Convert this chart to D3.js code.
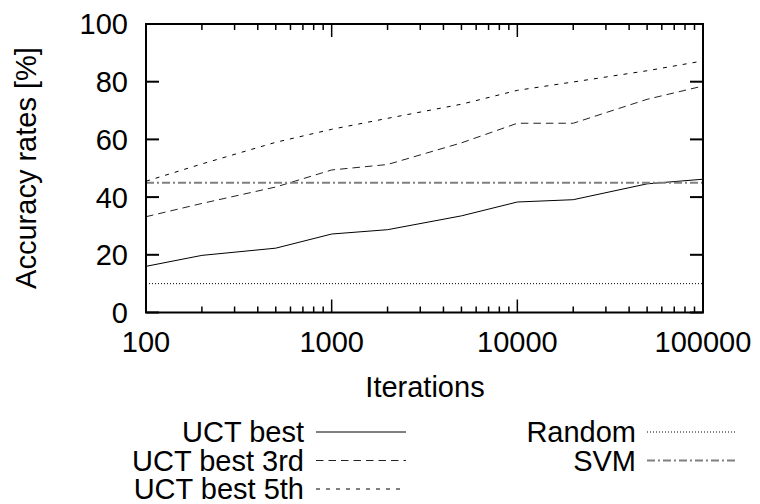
<!DOCTYPE html>
<html><head><meta charset="utf-8">
<script src="https://cdn.jsdelivr.net/npm/d3@7"></script>
<style>
html,body{margin:0;padding:0;background:#fff;}
svg text{font-family:"Liberation Sans",Arial,Helvetica,sans-serif;fill:#000;}
</style></head>
<body><svg id="c" width="760" height="504"></svg>
<script>
const iterations = [100, 200, 500, 1000, 2000, 5000, 10000, 20000, 50000, 100000];
const uctBest    = [16, 19.8, 22.3, 27.2, 28.7, 33.5, 38.3, 39.1, 44.6, 46.2];
const uctBest3rd = [33.2, 37.8, 43.5, 49.4, 51.3, 58.8, 65.6, 65.6, 73.9, 78.5];
const uctBest5th = [45.5, 51.5, 59, 63.5, 67.3, 72.2, 77, 79.9, 83.8, 87.2];
const randomRate = 10;
const svmRate = 45;
const xTicks = [100, 1000, 10000, 100000];
const yTicks = [0, 20, 40, 60, 80, 100];
const seriesNames = ["UCT best", "UCT best 3rd", "UCT best 5th", "Random", "SVM"];

const L = 146, R = 703, T = 24, B = 312.5;
const svg = d3.select("#c");
const x = d3.scaleLog().domain([100, 100000]).range([L, R]);
const y = d3.scaleLinear().domain([0, 100]).range([B, T]);
const FS = 29;

const styles = [
  {stroke:"#000", dash:null, w:1},
  {stroke:"#222", dash:"7.5,5", w:1},
  {stroke:"#000", dash:"4,6", w:1},
  {stroke:"#000", dash:"1,2", w:1},
  {stroke:"#808080", dash:"8,3,2,3", w:2}
];

const minor = [];
for (let d = 100; d < 100000; d *= 10) for (let k = 2; k <= 9; k++) minor.push(d * k);
const tg = svg.append("g").attr("stroke", "#000");
minor.forEach(v => {
  tg.append("line").attr("x1", x(v)).attr("x2", x(v)).attr("y1", B).attr("y2", B - 6).attr("stroke-width", 1.5);
  tg.append("line").attr("x1", x(v)).attr("x2", x(v)).attr("y1", T).attr("y2", T + 6).attr("stroke-width", 1.5);
});
xTicks.forEach(v => {
  tg.append("line").attr("x1", x(v)).attr("x2", x(v)).attr("y1", B).attr("y2", B - 13).attr("stroke-width", 1.5);
  tg.append("line").attr("x1", x(v)).attr("x2", x(v)).attr("y1", T).attr("y2", T + 13).attr("stroke-width", 1.5);
});
yTicks.forEach(v => {
  tg.append("line").attr("x1", L).attr("x2", L + 13).attr("y1", y(v)).attr("y2", y(v)).attr("stroke-width", 2);
  tg.append("line").attr("x1", R).attr("x2", R - 13).attr("y1", y(v)).attr("y2", y(v)).attr("stroke-width", 2);
});

svg.append("g").selectAll("text").data(xTicks).join("text")
  .attr("x", d => x(d)).attr("y", 352).attr("text-anchor", "middle")
  .attr("font-size", FS).text(d => d);
svg.append("g").selectAll("text").data(yTicks).join("text")
  .attr("x", 128).attr("y", d => y(d) + 10.4).attr("text-anchor", "end")
  .attr("font-size", FS).text(d => d);

svg.append("text").attr("x", 425).attr("y", 397).attr("text-anchor", "middle")
  .attr("font-size", FS).text("Iterations");
svg.append("text").attr("transform", "translate(36,168) rotate(-90)")
  .attr("text-anchor", "middle").attr("font-size", FS).text("Accuracy rates [%]");

const line = d3.line().x(d => x(d[0])).y(d => y(d[1]));
const series = [
  iterations.map((v, i) => [v, uctBest[i]]),
  iterations.map((v, i) => [v, uctBest3rd[i]]),
  iterations.map((v, i) => [v, uctBest5th[i]]),
  [[100, randomRate], [100000, randomRate]],
  [[100, svmRate], [100000, svmRate]]
];
const pg = svg.append("g");
series.forEach((s, i) => {
  const p = pg.append("path").attr("d", line(s)).attr("fill", "none")
    .attr("stroke", styles[i].stroke).attr("stroke-width", styles[i].w);
  if (styles[i].dash) p.attr("stroke-dasharray", styles[i].dash);
});

svg.append("rect").attr("x", L).attr("y", T).attr("width", R - L).attr("height", B - T)
  .attr("fill", "none").attr("stroke", "#000").attr("stroke-width", 2);

const leg = [
  {i:0, tx:304, lx1:316, lx2:406, ly:432},
  {i:1, tx:304, lx1:316, lx2:406, ly:460.5},
  {i:2, tx:304, lx1:316, lx2:406, ly:489},
  {i:3, tx:636, lx1:647, lx2:735, ly:432},
  {i:4, tx:636, lx1:647, lx2:735, ly:460.5}
];
leg.forEach(o => {
  svg.append("text").attr("x", o.tx).attr("y", o.ly + 10.4).attr("text-anchor", "end")
    .attr("font-size", FS).text(seriesNames[o.i]);
  const l = svg.append("line").attr("x1", o.lx1).attr("x2", o.lx2).attr("y1", o.ly).attr("y2", o.ly)
    .attr("stroke", styles[o.i].stroke).attr("stroke-width", styles[o.i].w);
  if (styles[o.i].dash) l.attr("stroke-dasharray", styles[o.i].dash);
});
</script></body></html>
